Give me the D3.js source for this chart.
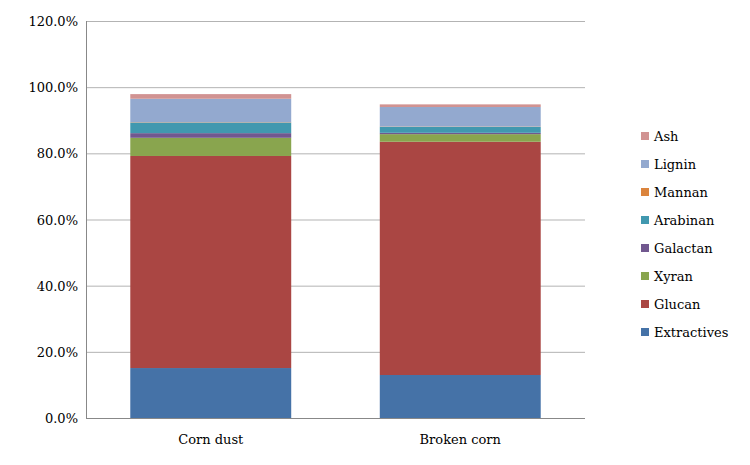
<!DOCTYPE html>
<html><head><meta charset="utf-8">
<script src="https://cdn.jsdelivr.net/npm/d3@7"></script>
<style>body{margin:0;background:#fff}text{font-family:"DejaVu Serif",serif;font-size:13px;fill:#000}</style>
</head><body><svg id="c" width="750" height="465"></svg>
<script>
var categories = ["Corn dust", "Broken corn"];
var components = ["Extractives", "Glucan", "Xyran", "Galactan", "Arabinan", "Mannan", "Lignin", "Ash"];
var colors = ["#4572a7", "#aa4643", "#89a54e", "#71588f", "#4198af", "#db843d", "#93a9cf", "#d19392"];
var cornDust = [15.1, 64.1, 5.5, 1.4, 3.2, 0.1, 7.1, 1.4];
var brokenCorn = [13.0, 70.5, 2.3, 0.4, 1.8, 0.1, 5.9, 0.8];
var yTicks = [0, 20, 40, 60, 80, 100, 120];

var svg = d3.select("#c");
var plotLeft = 86, plotRight = 585, plotTop = 21, plotBottom = 418;

var x = d3.scaleBand().domain(categories).range([plotLeft, plotRight]).paddingInner(0.355).paddingOuter(0.1775);
var y = d3.scaleLinear().domain([0, 120]).range([plotBottom, plotTop]);

// grid
svg.selectAll(".grid").data(yTicks).enter().append("line")
  .attr("x1", plotLeft).attr("x2", plotRight)
  .attr("y1", d => y(d) + 0.5).attr("y2", d => y(d) + 0.5)
  .attr("stroke", "#b3b3b3").attr("stroke-width", 1);

var series = [cornDust, brokenCorn];
var rows = categories.map(function(c, i){
  var r = {cat: c};
  components.forEach(function(k, j){ r[k] = series[i][j]; });
  return r;
});
var stack = d3.stack().keys(components)(rows);

svg.selectAll(".layer").data(stack).enter().append("g")
  .attr("fill", (d, i) => colors[i])
  .selectAll("rect").data(d => d).enter().append("rect")
  .attr("x", d => x(d.data.cat))
  .attr("width", x.bandwidth())
  .attr("y", d => y(d[1]))
  .attr("height", d => y(d[0]) - y(d[1]));

// axes lines
svg.append("line").attr("x1", plotLeft + 0.5).attr("x2", plotLeft + 0.5).attr("y1", plotTop).attr("y2", plotBottom)
  .attr("stroke", "#888");
svg.append("line").attr("x1", plotLeft).attr("x2", plotRight).attr("y1", plotBottom + 0.5).attr("y2", plotBottom + 0.5)
  .attr("stroke", "#888");

svg.selectAll(".yl").data(yTicks).enter().append("text")
  .attr("x", plotLeft - 8).attr("y", d => y(d) + 5)
  .attr("text-anchor", "end")
  .text(d => d.toFixed(1) + "%");

svg.selectAll(".xl").data(categories).enter().append("text")
  .attr("x", d => x(d) + x.bandwidth() / 2).attr("y", plotBottom + 26)
  .attr("text-anchor", "middle")
  .text(d => d);

// legend, Ash on top
var leg = svg.append("g");
components.slice().reverse().forEach(function(k, i){
  var ci = components.indexOf(k);
  var ly = 136 + i * 28;
  leg.append("rect").attr("x", 641).attr("y", ly - 4).attr("width", 8).attr("height", 8).attr("fill", colors[ci]);
  leg.append("text").attr("x", 654).attr("y", ly + 5).text(k);
});
</script></body></html>
